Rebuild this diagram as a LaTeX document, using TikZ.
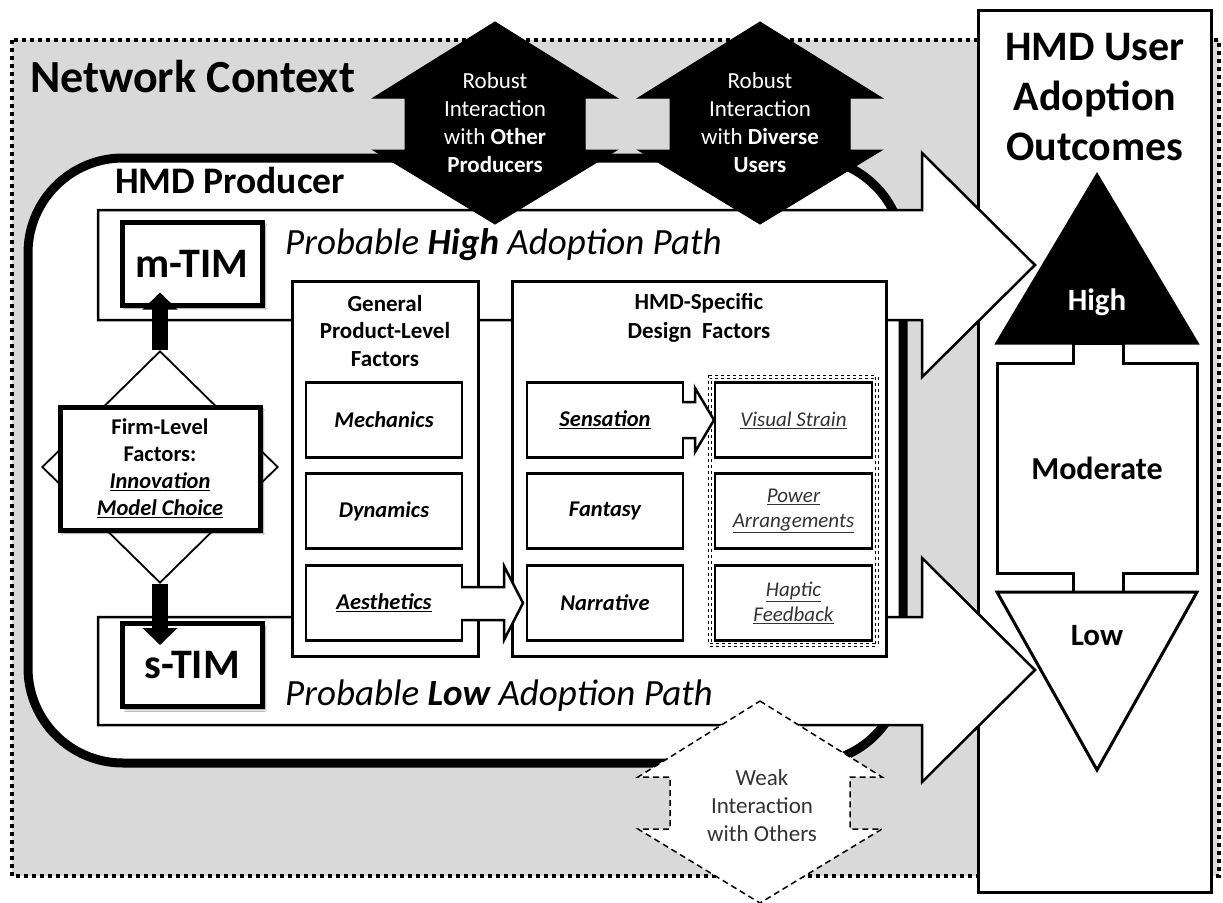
\documentclass[tikz,border=0pt]{standalone}
\usepackage{fontspec}
\setmainfont{Carlito}
\usetikzlibrary{shapes.geometric,arrows.meta,shadows.blur}

\tikzset{
  every node/.style={inner sep=0pt},
  box/.style={draw, line width=3pt, fill=white},
  factor/.style={draw, line width=2.5pt, fill=white, minimum width=156pt, minimum height=75pt,
    align=center, font=\fontsize{22.5}{27}\selectfont\bfseries\itshape},
  design/.style={factor, minimum width=157pt, font=\fontsize{21}{25}\selectfont\itshape, text=black!80},
  timbox/.style={draw, line width=5pt, fill=white, minimum width=140pt, minimum height=83pt,
    font=\fontsize{42}{44}\selectfont\bfseries,
    blur shadow={shadow xshift=3pt, shadow yshift=-3pt, shadow blur steps=6, shadow opacity=45}},
  pathtext/.style={anchor=base west, font=\fontsize{37}{40}\selectfont\itshape},
  blockarrow/.style={draw, line width=2.5pt, fill=white, line join=miter},
  thickarrow/.style={line width=16pt, -{Triangle[length=17pt,width=34pt]}},
  updown/.pic={
    \path[pic actions] (0,-101) -- (122,-25) -- (90,-25) -- (90,27) -- (122,27) -- (0,101)
      -- (-122,27) -- (-90,27) -- (-90,-25) -- (-122,-25) -- cycle;
  },
}

\begin{document}
\begin{tikzpicture}[x=1pt, y=-1pt]
\useasboundingbox (0,0) rectangle (1223,902);

% network context
\path[fill=black!15, draw=black, line width=3.5pt, dash pattern=on 4pt off 4pt] (12,40) rectangle (1219,876);
\node[anchor=base west, font=\fontsize{46}{50}\selectfont\bfseries] (network) at (30,92) {Network Context};

% outcomes column
\node[box, minimum width=233pt, minimum height=882pt] (outcomes) at (1094.5,451) {};
\node[align=center, font=\fontsize{42}{50}\selectfont\bfseries] (outtitle) at (1095,97) {HMD User\\Adoption\\Outcomes};
\draw[line width=3pt, fill=white] (997,363) -| (1073,343) -| (1123,363) -| (1197,573) -| (1123,592)
  -| (1073,573) -| (997,363) -- cycle;
\node[font=\fontsize{32}{34}\selectfont\bfseries] (moderate) at (1097,468) {Moderate};
\draw[line width=3pt, fill=black, line join=miter] (1097,175) -- (1197,343) -- (997,343) -- cycle;
\node[text=white, font=\fontsize{31}{34}\selectfont\bfseries] (high) at (1097,302) {High};
\draw[line width=3pt, fill=white, line join=miter] (997,592) -- (1197,592) -- (1097,770) -- cycle;
\node[font=\fontsize{31}{34}\selectfont\bfseries] (low) at (1097,636) {Low};

% producer
\node[draw, line width=9pt, fill=white, rounded corners=95pt, minimum width=875pt, minimum height=605pt] (producer) at (465.5,460.5) {};
\node[anchor=base west, font=\fontsize{37.5}{40}\selectfont\bfseries] (producertitle) at (115,193) {HMD Producer};

% adoption paths
\draw[blockarrow] (98,210) -- (922,210) -- (922,153) -- (1035,265) -- (922,377) -- (922,320) -- (98,320) -- cycle;
\draw[blockarrow] (98,617) -- (922,617) -- (922,558) -- (1035,670) -- (922,782) -- (922,725) -- (98,725) -- cycle;

% interaction with the network
\pic[fill=black, draw=black, line width=1pt] at (495,123) {updown};
\pic[fill=black, draw=black, line width=1pt] at (760,123) {updown};
\pic[fill=white, draw=black, line width=1.5pt, dash pattern=on 6pt off 4pt] at (760,802) {updown};
\node[text=white, align=center, font=\fontsize{23}{28}\selectfont] (robustprod) at (495,123) {Robust\\Interaction\\with \textbf{Other}\\\textbf{Producers}};
\node[text=white, align=center, font=\fontsize{23}{28}\selectfont] (robustuser) at (760,123) {Robust\\Interaction\\with \textbf{Diverse}\\\textbf{Users}};
\node[text=black!80, align=center, font=\fontsize{23}{28}\selectfont] (weak) at (762,806) {Weak\\Interaction\\with Others};

% product level factors
\node[box, minimum width=186pt, minimum height=375pt] (general) at (385,468.5) {};
\node[align=center, font=\fontsize{23}{27.5}\selectfont\bfseries] (gentitle) at (385,331) {General\\Product-Level\\Factors};
\node[factor] (mechanics) at (384,420) {Mechanics};
\node[factor] (dynamics) at (384,511) {Dynamics};
\node[factor] (aesthetics) at (384,603) {\underline{Aesthetics}};

% design factors
\node[box, minimum width=374pt, minimum height=375pt] (hmdspec) at (699,468.5) {};
\node[align=center, font=\fontsize{23}{29}\selectfont\bfseries] (spectitle) at (699,318) {HMD-Specific\\Design~~Factors};
\node[factor] (sensation) at (605,420) {\underline{Sensation}};
\node[factor] (fantasy) at (605,511) {Fantasy};
\node[factor] (narrative) at (605,603) {Narrative};
\node[draw, dashed, double, double distance=2.5pt, line width=1pt, minimum width=167pt, minimum height=268pt] (sensory) at (793.5,511) {};
\node[design] (strain) at (793.5,420) {\underline{Visual Strain}};
\node[design] (power) at (793.5,511) {\underline{Power}\\\underline{Arrangements}};
\node[design] (haptic) at (793.5,603) {\underline{Haptic}\\\underline{Feedback}};

% small arrows out of aesthetics and sensation
\fill[white] (459,587) -- (504,587) -- (504,566) -- (523,603) -- (504,640) -- (504,620) -- (459,620) -- cycle;
\draw[line width=2.5pt, line join=miter] (461,587) -- (504,587) -- (504,566) -- (523,603) -- (504,640) -- (504,620) -- (461,620);
\fill[white] (680,402) -- (695,402) -- (695,388) -- (714,420) -- (695,452) -- (695,438) -- (680,438) -- cycle;
\draw[line width=2.5pt, line join=miter] (682,402) -- (695,402) -- (695,388) -- (714,420) -- (695,452) -- (695,438) -- (682,438);

% innovation model choice
\node[timbox] (mtim) at (192,263.5) {m-TIM};
\node[timbox] (stim) at (192,665) {s-TIM};
\node[draw, diamond, line width=1.8pt, fill=white, minimum width=236pt, minimum height=232pt] (choice) at (160,467) {};
\node[timbox, minimum width=200pt, minimum height=123pt, align=center, font=\fontsize{22.5}{27}\selectfont\bfseries] (firm) at (160,468.5)
  {Firm-Level\\Factors:\\\textit{\underline{Innovation}}\\\textit{\underline{Model Choice}}};
\draw[thickarrow, shorten >=-15pt] (choice.north) -- (choice.north |- mtim.south);
\draw[thickarrow, shorten >=-24pt] (choice.south) -- (choice.south |- stim.north);

\node[pathtext] (highpath) at (285,254) {Probable \textbf{High} Adoption Path};
\node[pathtext] (lowpath) at (285,705) {Probable \textbf{Low} Adoption Path};
\end{tikzpicture}
\end{document}
